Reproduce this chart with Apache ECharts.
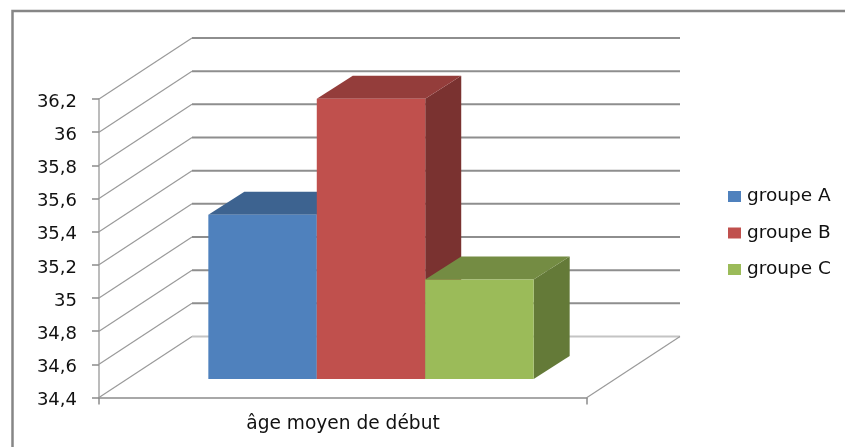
<!DOCTYPE html>
<html>
<head>
<meta charset="utf-8">
<style>html,body{margin:0;padding:0;background:#fff}#c{width:845px;height:447px}</style>
<script src="https://cdn.jsdelivr.net/npm/echarts@6/dist/echarts.min.js"></script>
</head>
<body>
<div id="c"></div>
<script>
const categories = ['âge moyen de début'];
const groupNames = ['groupe A', 'groupe B', 'groupe C'];
const groupA = [35.39];
const groupB = [36.09];
const groupC = [35];
const yTicks = [34.4, 34.6, 34.8, 35, 35.2, 35.4, 35.6, 35.8, 36, 36.2];

const frontColors = ['#4F81BD', '#C0504D', '#9BBB59'];
const topColors = ['#3D6390', '#943D3B', '#748C43'];
const sideColors = ['#35567D', '#7A3230', '#647A38'];

const wallDx = 93, wallDy = -61;
const barStartDx = 28, barStartDy = -18.5;
const barDepthDx = 36, barDepthDy = -23;
const gapRatio = 0.75;

function wallItem(params, api) {
  const cs = params.coordSys;
  const y = api.coord([0, api.value(1)])[1];
  const l = cs.x, r = cs.x + cs.width;
  const isFloor = params.dataIndex === 0;
  const children = [
    {
      type: 'line',
      shape: { x1: l, y1: y, x2: l + wallDx, y2: y + wallDy },
      style: { stroke: '#9A9A9A', lineWidth: 1.2 }
    },
    {
      type: 'line',
      shape: { x1: l + wallDx, y1: y + wallDy, x2: r + wallDx, y2: y + wallDy },
      style: { stroke: isFloor ? '#C4C4C4' : '#8E8E8E', lineWidth: 2 }
    }
  ];
  if (isFloor) {
    children.push({
      type: 'line',
      shape: { x1: r, y1: y, x2: r + wallDx, y2: y + wallDy },
      style: { stroke: '#9A9A9A', lineWidth: 1.2 }
    });
  }
  return { type: 'group', children };
}

function barRenderer(i) {
  return function (params, api) {
    const cs = params.coordSys;
    const band = api.size([1, 0])[0];
    const bw = band / (3 + 2 * gapRatio);
    const x0 = cs.x + barStartDx + bw * gapRatio + i * bw;
    const x1 = x0 + bw;
    const yTop = api.coord([0, api.value(1)])[1] + barStartDy;
    const yBase = api.coord([0, yTicks[0]])[1] + barStartDy;
    const dx = barDepthDx, dy = barDepthDy;
    return {
      type: 'group',
      children: [
        { type: 'polygon', shape: { points: [[x1, yTop], [x1 + dx, yTop + dy], [x1 + dx, yBase + dy], [x1, yBase]] }, style: { fill: sideColors[i] } },
        { type: 'polygon', shape: { points: [[x0, yTop], [x0 + dx, yTop + dy], [x1 + dx, yTop + dy], [x1, yTop]] }, style: { fill: topColors[i] } },
        { type: 'rect', shape: { x: x0, y: yTop, width: bw, height: yBase - yTop }, style: { fill: frontColors[i] } }
      ]
    };
  };
}

const series = [{
  type: 'custom',
  name: 'walls',
  renderItem: wallItem,
  data: yTicks.map(v => [0, v]),
  encode: { x: 0, y: 1 },
  silent: true,
  z: 1
}];
[groupA, groupB, groupC].forEach((vals, i) => {
  series.push({
    type: 'custom',
    name: groupNames[i],
    renderItem: barRenderer(i),
    data: vals.map((v, k) => [k, v]),
    encode: { x: 0, y: 1 },
    itemStyle: { color: frontColors[i] },
    z: 2 + i
  });
});

const chart = echarts.init(document.getElementById('c'), null, { renderer: 'canvas' });
chart.setOption({
  animation: false,
  backgroundColor: '#fff',
  textStyle: { fontFamily: 'DejaVu Sans' },
  grid: { left: 99, right: 258, top: 99, bottom: 49.5, containLabel: false },
  graphic: [
    { type: 'polyline', silent: true, shape: { points: [[12.5, 447], [12.5, 11], [845, 11]] }, style: { stroke: '#868686', lineWidth: 2.5, fill: null } }
  ],
  legend: {
    left: 728, top: 187, padding: 0, orient: 'vertical', itemWidth: 13, itemHeight: 11, itemGap: 17.5,
    icon: 'rect', data: groupNames,
    textStyle: { fontFamily: 'DejaVu Sans', fontSize: 18.5, color: '#111', padding: [0, 0, 0, 1] }
  },
  xAxis: {
    type: 'category', data: categories,
    axisLine: { lineStyle: { color: '#8C8C8C', width: 1.5 } },
    axisTick: { show: true, length: 7, alignWithLabel: false, lineStyle: { color: '#8C8C8C', width: 1.5 } },
    axisLabel: { color: '#111', fontSize: 18.6, margin: 17 },
    splitLine: { show: false }
  },
  yAxis: {
    type: 'value', min: yTicks[0], max: yTicks[yTicks.length - 1], interval: 0.2,
    axisLine: { show: true, lineStyle: { color: '#A6A6A6', width: 1.5 } },
    axisTick: { show: true, length: 7, lineStyle: { color: '#8C8C8C', width: 1.5 } },
    axisLabel: { color: '#111', fontSize: 18, margin: 22, verticalAlign: 'top', lineHeight: 12, padding: [-3, 0, 0, 0], formatter: v => String(+v.toFixed(1)).replace('.', ',') },
    splitLine: { show: false }
  },
  series
});
</script>
</body>
</html>
